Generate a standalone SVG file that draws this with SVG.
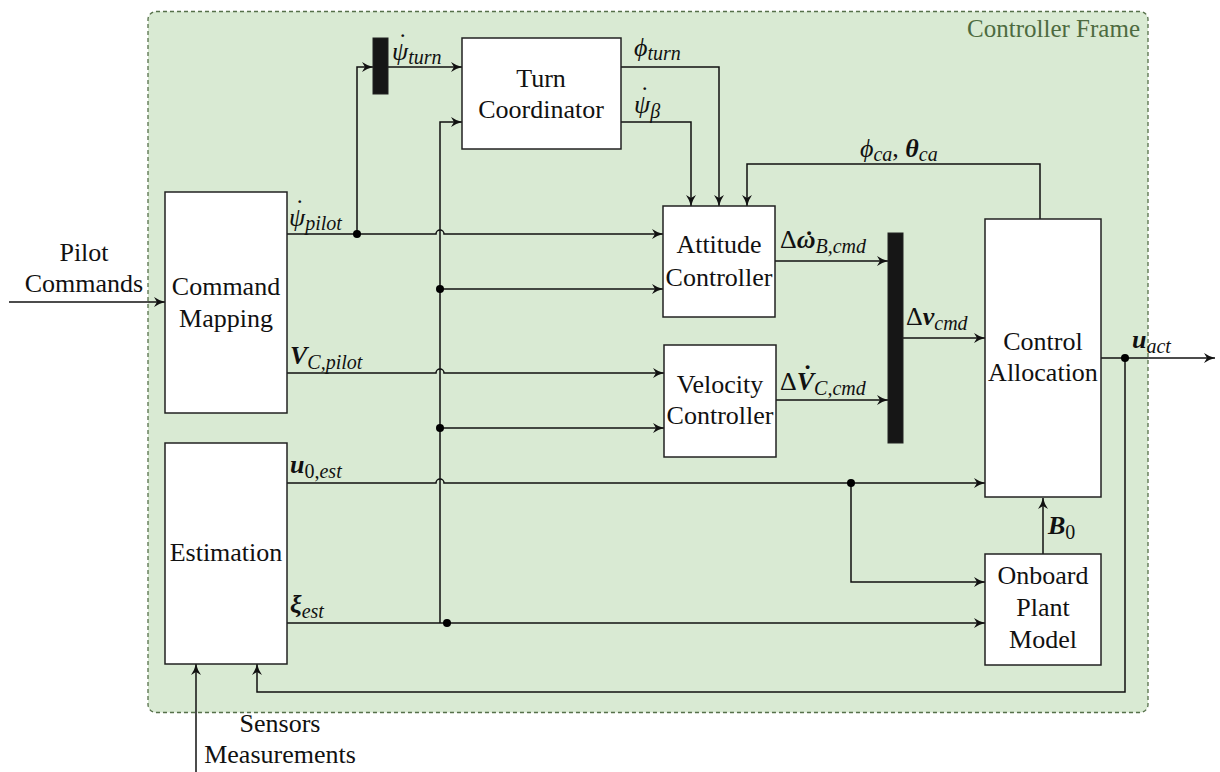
<svg xmlns="http://www.w3.org/2000/svg" width="1220" height="772" viewBox="0 0 1220 772">
<style>
.box{fill:#fff;stroke:#222;stroke-width:1.5}
.mux{fill:#161616;stroke:#222;stroke-width:1}
text{font-family:'Liberation Serif','Times New Roman','DejaVu Serif',serif}
.lbl{font-size:26px;fill:#111;text-anchor:middle}
.m{font-style:italic;font-size:26px;fill:#111}
.b{font-weight:bold}
.u{font-style:normal}
.s{font-size:20px;font-weight:normal}
.w{fill:none;stroke:#111;stroke-width:1.5}
.dot{fill:#000}
</style>
<defs>
<marker id="ar" markerUnits="userSpaceOnUse" markerWidth="14" markerHeight="12" viewBox="0 -6 12 12" refX="11" refY="0" orient="auto">
<path d="M0,-5 Q5,-1.5 11,0 Q5,1.5 0,5 L3,0 Z" fill="#111"/>
</marker>
</defs>
<g id="frame">
<rect x="148" y="11.5" width="1000" height="701" rx="8" fill="#d9ead3" stroke="#56704a" stroke-width="1.3" stroke-dasharray="4 3"/>
<text x="1140" y="37" style="font-size:25px;fill:#4d6a40;text-anchor:end">Controller Frame</text>
</g>
<g id="connectors">
<path class="w" d="M9,302 H165" marker-end="url(#ar)"/>
<path class="w" d="M287,234 H436 A4,4 0 0 1 444,234 H663" marker-end="url(#ar)"/>
<path class="w" d="M357,234 V67 H373" marker-end="url(#ar)"/>
<path class="w" d="M388,67 H462" marker-end="url(#ar)"/>
<path class="w" d="M440,623 V122 H462" marker-end="url(#ar)"/>
<path class="w" d="M440,289 H663" marker-end="url(#ar)"/>
<path class="w" d="M287,373 H436 A4,4 0 0 1 444,373 H664" marker-end="url(#ar)"/>
<path class="w" d="M440,428 H664" marker-end="url(#ar)"/>
<path class="w" d="M287,483 H436 A4,4 0 0 1 444,483 H985" marker-end="url(#ar)"/>
<path class="w" d="M851,483 V582 H985" marker-end="url(#ar)"/>
<path class="w" d="M287,623 H985" marker-end="url(#ar)"/>
<path class="w" d="M621,67 H719 V206" marker-end="url(#ar)"/>
<path class="w" d="M621,122 H691 V206" marker-end="url(#ar)"/>
<path class="w" d="M1040,219 V164 H747 V206" marker-end="url(#ar)"/>
<path class="w" d="M775,261 H888" marker-end="url(#ar)"/>
<path class="w" d="M776,400 H888" marker-end="url(#ar)"/>
<path class="w" d="M903,338 H985" marker-end="url(#ar)"/>
<path class="w" d="M1101,358 H1215" marker-end="url(#ar)"/>
<path class="w" d="M1125,358 V692 H257 V664" marker-end="url(#ar)"/>
<path class="w" d="M1043,554 V498" marker-end="url(#ar)"/>
<path class="w" d="M196,772 V664" marker-end="url(#ar)"/>
<circle class="dot" cx="357" cy="234" r="4"/>
<circle class="dot" cx="440" cy="289" r="4"/>
<circle class="dot" cx="440" cy="428" r="4"/>
<circle class="dot" cx="447" cy="623" r="4"/>
<circle class="dot" cx="851" cy="483" r="4"/>
<circle class="dot" cx="1125" cy="358" r="4"/>
<text class="m" x="289" y="226">ψ<tspan dx="-11.3" dy="-9">˙</tspan><tspan class="s" dx="2.6" dy="13">pilot</tspan></text>
<text class="m b" x="290" y="364">V<tspan class="s" dy="5">C,pilot</tspan></text>
<text class="m b" x="290" y="473">u<tspan class="s u" dy="5">0,</tspan><tspan class="s">est</tspan></text>
<text class="m b" x="290" y="613">ξ<tspan class="s" dy="5">est</tspan></text>
<text class="m" x="392" y="60">ψ<tspan dx="-11.3" dy="-9">˙</tspan><tspan class="s" dx="2.6" dy="13">turn</tspan></text>
<text class="m" x="634" y="56">ϕ<tspan class="s" dy="4">turn</tspan></text>
<text class="m" x="634" y="113">ψ<tspan dx="-11.3" dy="-9">˙</tspan><tspan class="s" dx="2.6" dy="14">β</tspan></text>
<text class="m" x="860" y="157">ϕ<tspan class="s" dy="4">ca</tspan><tspan dy="-4" class="u">, </tspan><tspan class="b">θ</tspan><tspan class="s" dy="4">ca</tspan></text>
<text class="m" x="780" y="248"><tspan class="u">Δ</tspan><tspan class="b">ω</tspan><tspan class="b" dx="-12.3" dy="1">˙</tspan><tspan class="s" dx="3.6" dy="4">B,cmd</tspan></text>
<text class="m" x="780" y="390"><tspan class="u">Δ</tspan><tspan class="b">V</tspan><tspan class="b" dx="-12.3" dy="-7">˙</tspan><tspan class="s" dx="3.6" dy="12">C,cmd</tspan></text>
<text class="m" x="906" y="325"><tspan class="u">Δ</tspan><tspan class="b">ν</tspan><tspan class="s" dy="5">cmd</tspan></text>
<text class="m b" x="1132" y="348">u<tspan class="s" dy="5">act</tspan></text>
<text class="m b" x="1048" y="534">B<tspan class="s u" dy="5">0</tspan></text>
<text class="lbl" x="84" y="261">Pilot</text>
<text class="lbl" x="84" y="292">Commands</text>
<text class="lbl" x="280" y="732">Sensors</text>
<text class="lbl" x="280" y="763">Measurements</text>
</g>
<g id="mux1"><rect class="mux" x="373" y="38" width="15" height="56"/></g>
<g id="mux2"><rect class="mux" x="888" y="233" width="15" height="210"/></g>
<g id="command-mapping"><rect class="box" x="165" y="192" width="122" height="221"/>
<text class="lbl" x="226" y="295">Command</text><text class="lbl" x="226" y="327">Mapping</text></g>
<g id="estimation"><rect class="box" x="165" y="443" width="122" height="221"/>
<text class="lbl" x="226" y="561">Estimation</text></g>
<g id="turn-coordinator"><rect class="box" x="462" y="38" width="159" height="111"/>
<text class="lbl" x="541" y="87">Turn</text><text class="lbl" x="541" y="118">Coordinator</text></g>
<g id="attitude-controller"><rect class="box" x="663" y="206" width="112" height="111"/>
<text class="lbl" x="719" y="253">Attitude</text><text class="lbl" x="719" y="286">Controller</text></g>
<g id="velocity-controller"><rect class="box" x="664" y="345" width="112" height="112"/>
<text class="lbl" x="720" y="393">Velocity</text><text class="lbl" x="720" y="424">Controller</text></g>
<g id="control-allocation"><rect class="box" x="985" y="219" width="116" height="278"/>
<text class="lbl" x="1043" y="350">Control</text><text class="lbl" x="1043" y="381">Allocation</text></g>
<g id="onboard-plant-model"><rect class="box" x="985" y="554" width="116" height="111"/>
<text class="lbl" x="1043" y="584">Onboard</text><text class="lbl" x="1043" y="616">Plant</text><text class="lbl" x="1043" y="648">Model</text></g>
</svg>
